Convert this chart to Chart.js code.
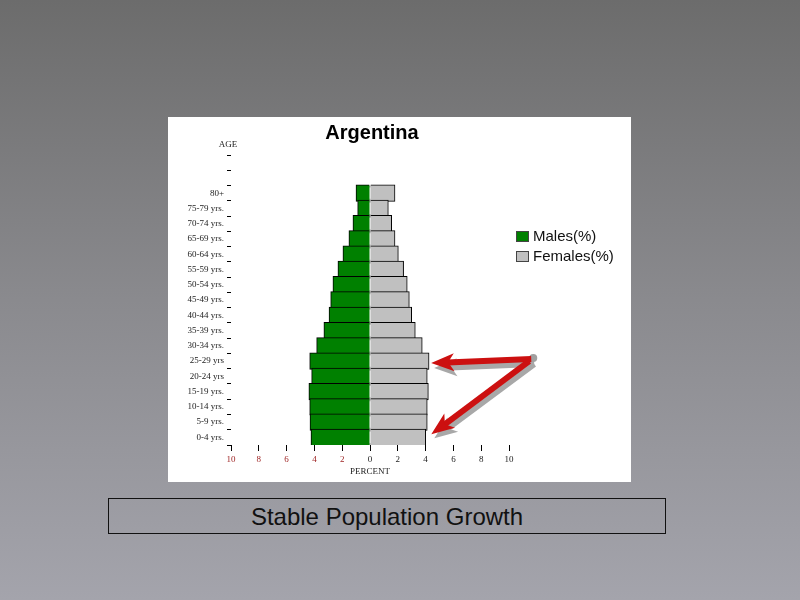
<!DOCTYPE html>
<html lang="es">
<head>
    <meta charset="UTF-8">
    <title>Argentina - Stable Population Growth</title>
    <style>
        html, body { margin: 0; padding: 0; }
        body {
            width: 800px; height: 600px; position: relative; overflow: hidden;
            background: linear-gradient(to bottom, #6c6c6c 0%, #8a8a8e 50%, #a4a4ac 100%);
            font-family: "Liberation Sans", Arial, sans-serif;
        }
        #panel { position: absolute; left: 168px; top: 117px; width: 463px; height: 365px; background: #fff; }
        #legend { position: absolute; left: 348px; top: 109px; font-size: 15px; color: #111; }
        #legend div { height: 20px; line-height: 20px; white-space: nowrap; }
        #legend span.box { display: inline-block; width: 11px; height: 9px; border: 1px solid #444; margin-right: 4px; vertical-align: -1px; }
        #caption {
            position: absolute; left: 108px; top: 498px; width: 556px; height: 34px;
            border: 1px solid #111; text-align: center; line-height: 36px; font-size: 24px; color: #111;
        }
    </style>
    <script src="https://cdn.jsdelivr.net/npm/chart.js"></script>
</head>
<body>
    <div id="panel">
        <canvas id="pyramid"></canvas>
        <div id="legend"></div>
    </div>
    <div id="caption">Stable Population Growth</div>
    <script>
        // age groups, top row first
        const ageGroups = ['80+', '75-79 yrs.', '70-74 yrs.', '65-69 yrs.', '60-64 yrs.', '55-59 yrs.',
            '50-54 yrs.', '45-49 yrs.', '40-44 yrs.', '35-39 yrs.', '30-34 yrs.', '25-29 yrs',
            '20-24 yrs', '15-19 yrs.', '10-14 yrs.', '5-9 yrs.', '0-4 yrs.'];
        const malePct   = [0.96, 0.84, 1.18, 1.47, 1.90, 2.26, 2.62, 2.78, 2.90, 3.27, 3.79, 4.29, 4.15, 4.35, 4.29, 4.27, 4.20];
        const femalePct = [1.75, 1.27, 1.51, 1.75, 1.99, 2.37, 2.63, 2.78, 2.95, 3.21, 3.71, 4.20, 4.07, 4.15, 4.07, 4.07, 3.96];
        const seriesNames = ['Males(%)', 'Females(%)'];
        const seriesColors = ['#008000', '#c0c0c0'];
        const percentMin = -10, percentMax = 10, percentStep = 2;

        // two empty rows above 80+ like the original axis
        const padRows = ['', ''];
        const labels = padRows.concat(ageGroups);
        const pad = padRows.map(() => null);

        const serif = 'Liberation Serif, Times New Roman, serif';

        // title + AGE label
        const textPlugin = {
            id: 'panelText',
            afterDraw(chart) {
                const c = chart.ctx, a = chart.chartArea;
                c.save();
                c.fillStyle = '#000';
                c.textAlign = 'center';
                c.textBaseline = 'middle';
                c.font = 'bold 20px Liberation Sans, Arial, sans-serif';
                c.fillText('Argentina', (a.left + a.right) / 2 + 2, 16);
                c.font = '9px ' + serif;
                c.fillStyle = '#222';
                c.fillText('AGE', a.left - 3, a.top - 10);
                c.restore();
            }
        };

        function arrow(c, x1, y1, x2, y2, color) {
            const ang = Math.atan2(y2 - y1, x2 - x1);
            const head = 20, half = 9, w = 6;
            const bx = x2 - Math.cos(ang) * head, by = y2 - Math.sin(ang) * head;
            c.strokeStyle = color;
            c.fillStyle = color;
            c.lineWidth = w;
            c.lineCap = 'butt';
            c.beginPath();
            c.moveTo(x1, y1);
            c.lineTo(bx + Math.cos(ang) * 4, by + Math.sin(ang) * 4);
            c.stroke();
            c.beginPath();
            c.moveTo(x2, y2);
            c.lineTo(bx - Math.sin(ang) * half - Math.cos(ang) * 3, by + Math.cos(ang) * half - Math.sin(ang) * 3);
            c.lineTo(bx + Math.cos(ang) * 3, by + Math.sin(ang) * 3);
            c.lineTo(bx + Math.sin(ang) * half - Math.cos(ang) * 3, by - Math.cos(ang) * half - Math.sin(ang) * 3);
            c.closePath();
            c.fill();
        }

        // red arrows pointing at the 25-29 and 0-4 female bars
        const arrowPlugin = {
            id: 'arrows',
            afterDatasetsDraw(chart) {
                const c = chart.ctx, xs = chart.scales.x, ys = chart.scales.y;
                const i1 = padRows.length + ageGroups.indexOf('25-29 yrs');
                const i2 = padRows.length + ageGroups.indexOf('0-4 yrs.');
                const sx = xs.getPixelForValue(11.6), sy = ys.getPixelForValue(i1) - 2;
                const t1 = [xs.getPixelForValue(femalePct[i1 - 2] + 0.2), ys.getPixelForValue(i1) + 2];
                const t2 = [xs.getPixelForValue(femalePct[i2 - 2] + 0.45), ys.getPixelForValue(i2) - 3];
                c.save();
                arrow(c, sx + 3, sy + 5, t1[0] + 3, t1[1] + 5, '#a8a8a8');
                arrow(c, sx + 3, sy + 5, t2[0] + 3, t2[1] + 4, '#a8a8a8');
                c.fillStyle = '#a0a0a0';
                c.beginPath();
                c.arc(sx + 2, sy - 1, 4, 0, Math.PI * 2);
                c.fill();
                arrow(c, sx, sy, t1[0], t1[1], '#cc1010');
                arrow(c, sx - 2, sy + 2, t2[0], t2[1], '#cc1010');
                c.restore();
            }
        };

        const ctx = document.getElementById('pyramid').getContext('2d');
        const chart = new Chart(ctx, {
            type: 'bar',
            data: {
                labels: labels,
                datasets: [{
                    label: seriesNames[0],
                    data: pad.concat(malePct.map(v => -v)),
                    backgroundColor: seriesColors[0],
                    borderColor: '#000',
                    borderWidth: 1,
                    borderSkipped: 'start',
                    inflateAmount: 1,
                    barPercentage: 1,
                    categoryPercentage: 1,
                }, {
                    label: seriesNames[1],
                    data: pad.concat(femalePct),
                    backgroundColor: seriesColors[1],
                    borderColor: '#000',
                    borderWidth: 1,
                    borderSkipped: 'start',
                    inflateAmount: 1,
                    barPercentage: 1,
                    categoryPercentage: 1,
                }]
            },
            options: {
                indexAxis: 'y',
                responsive: true,
                maintainAspectRatio: false,
                animation: false,
                layout: { padding: { left: 13, right: 122, top: 38, bottom: 0 } },
                plugins: {
                    legend: { display: false },
                    tooltip: { enabled: false },
                },
                scales: {
                    x: {
                        stacked: true,
                        min: percentMin,
                        max: percentMax,
                        grid: { drawOnChartArea: false, tickLength: 6, color: '#000' },
                        border: { display: false },
                        ticks: {
                            stepSize: percentStep,
                            padding: 3,
                            font: { family: serif, size: 9 },
                            color: (c) => c.tick && c.tick.value < 0 ? '#a02828' : '#222',
                            callback: (v) => Math.abs(v),
                        },
                        title: {
                            display: true,
                            text: 'PERCENT',
                            color: '#222',
                            font: { family: serif, size: 9 },
                            padding: { top: 0, bottom: 5 },
                        },
                        afterFit: (s) => { s.height = 37; },
                    },
                    y: {
                        stacked: true,
                        grid: { offset: true, drawOnChartArea: false, tickLength: 4, color: '#000' },
                        border: { display: false },
                        ticks: {
                            padding: 3,
                            autoSkip: false,
                            font: { family: serif, size: 9 },
                            color: '#222',
                        },
                        afterFit: (s) => { s.width = 50; },
                    },
                },
            },
            plugins: [textPlugin, arrowPlugin],
        });

        // legend as html, built from the datasets
        const legendEl = document.getElementById('legend');
        chart.data.datasets.forEach(ds => {
            const row = document.createElement('div');
            const box = document.createElement('span');
            box.className = 'box';
            box.style.background = ds.backgroundColor;
            row.appendChild(box);
            row.appendChild(document.createTextNode(ds.label));
            legendEl.appendChild(row);
        });
    </script>
</body>
</html>
